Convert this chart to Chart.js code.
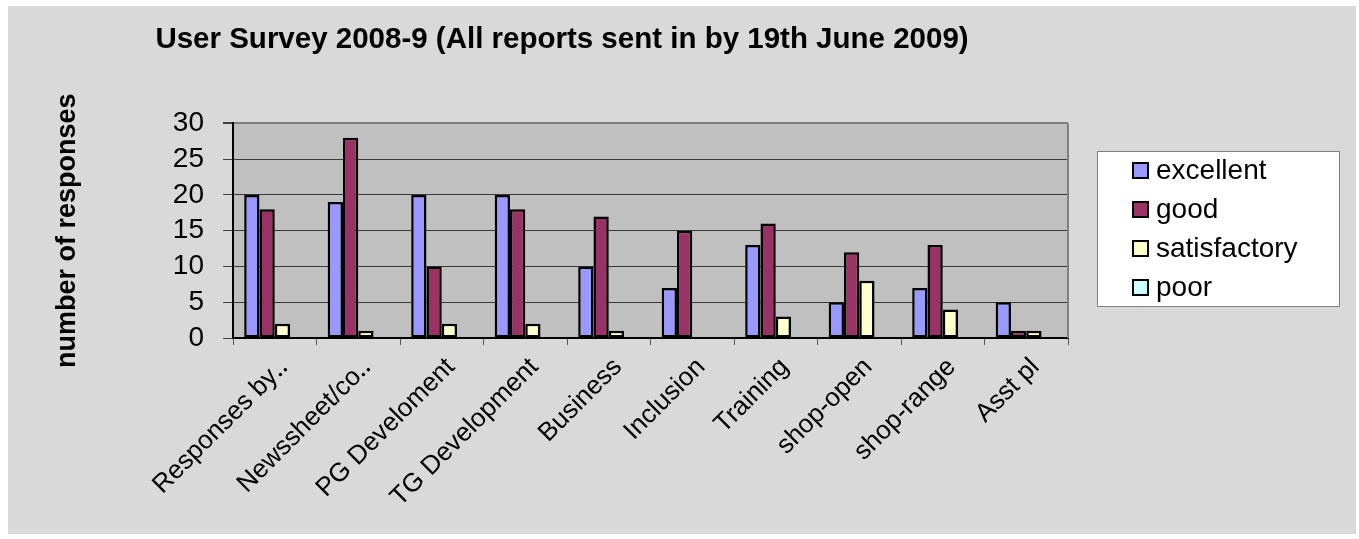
<!DOCTYPE html>
<html><head><meta charset="utf-8">
<script src="https://cdn.jsdelivr.net/npm/chart.js@4"></script>
<style>html,body{margin:0;padding:0;background:#fff;} canvas{display:block;}</style>
</head><body>
<canvas id="c" width="1359" height="539"></canvas>
<script>
const categories = ["Responses by\u2025","Newssheet/co\u2025","PG Develoment","TG Development","Business","Inclusion","Training","shop-open","shop-range","Asst pl"];
const seriesNames = ["excellent","good","satisfactory","poor"];
const excellent = [20,19,20,20,10,7,13,5,7,5];
const good = [18,28,10,18,17,15,16,12,13,1];
const satisfactory = [2,1,2,2,1,0,3,8,4,1];
const poor = [0,0,0,0,0,0,0,0,0,0];
const yTicks = [0,5,10,15,20,25,30];
const colors = ["#9999FF","#993366","#FFFFCC","#CCFFFF"];

const FONT = '"Liberation Sans", Arial, Helvetica, sans-serif';

const bgPlugin = {
  id: 'bg',
  beforeDraw(chart) {
    const ctx = chart.ctx, a = chart.chartArea;
    ctx.save();
    ctx.fillStyle = '#ffffff';
    ctx.fillRect(0, 0, chart.width, chart.height);
    ctx.fillStyle = '#d9d9d9';
    ctx.fillRect(8, 6, 1348, 528);
    ctx.fillStyle = '#c0c0c0';
    ctx.fillRect(a.left, a.top, a.right - a.left, a.bottom - a.top);
    ctx.restore();
  },
  afterDraw(chart) {
    const ctx = chart.ctx, a = chart.chartArea;
    ctx.save();
    ctx.strokeStyle = '#808080';
    ctx.lineWidth = 2;
    ctx.beginPath();
    ctx.moveTo(a.right, a.top);
    ctx.lineTo(a.right, a.bottom);
    ctx.stroke();
    const lx = 1097, ly = 151, lw = 242, lh = 155;
    ctx.fillStyle = '#ffffff';
    ctx.fillRect(lx, ly, lw, lh);
    ctx.strokeStyle = '#808080';
    ctx.lineWidth = 1;
    ctx.strokeRect(lx + 0.5, ly + 0.5, lw, lh);
    ctx.font = '28px ' + FONT;
    ctx.textBaseline = 'middle';
    ctx.textAlign = 'left';
    chart.data.datasets.forEach((ds, i) => {
      const cy = 170 + i * 39;
      ctx.fillStyle = ds.backgroundColor;
      ctx.fillRect(1133, cy - 7, 15, 15);
      ctx.strokeStyle = '#000';
      ctx.lineWidth = 2;
      ctx.strokeRect(1133, cy - 7, 15, 15);
      ctx.fillStyle = '#000';
      ctx.fillText(ds.label, 1156, cy + 1);
    });
    ctx.restore();
  }
};

const datasets = [excellent, good, satisfactory, poor].map((d, i) => ({
  label: seriesNames[i],
  data: d,
  backgroundColor: colors[i],
  borderColor: '#000',
  borderWidth: 2.5,
  borderSkipped: false
}));

new Chart(document.getElementById('c'), {
  type: 'bar',
  data: { labels: categories, datasets },
  plugins: [bgPlugin],
  options: {
    responsive: false,
    animation: false,
    devicePixelRatio: 1,
    layout: { padding: { left: 56, right: 291, top: 0, bottom: 0 } },
    datasets: { bar: { barPercentage: 1, categoryPercentage: 0.732 } },
    plugins: {
      legend: { display: false },
      tooltip: { enabled: false },
      title: {
        display: true,
        text: 'User Survey 2008-9 (All reports sent in by 19th June 2009)',
        color: '#000',
        font: { family: FONT, size: 29.5, weight: 'bold' },
        padding: { top: 22, bottom: 66 }
      }
    },
    scales: {
      x: {
        afterFit(s) { s.height = 201; },
        grid: { display: true, drawOnChartArea: false, drawTicks: true, tickLength: 7, color: '#555', offset: true },
        border: { display: true, color: '#000', width: 2 },
        ticks: {
          autoSkip: false, minRotation: 45, maxRotation: 45,
          color: '#000', font: { family: FONT, size: 26 }, padding: 7, labelOffset: 9
        }
      },
      y: {
        min: 0, max: 30,
        afterFit(s) { s.width = 177; },
        afterBuildTicks(s) { s.ticks = yTicks.map(v => ({ value: v })); },
        grid: {
          color: c => (c.tick && c.tick.value === 30) ? '#808080' : '#3a3a3a',
          lineWidth: c => (c.tick && c.tick.value === 30) ? 2 : 1,
          tickColor: '#404040', tickLength: 10, drawTicks: true
        },
        border: { display: true, color: '#000', width: 2 },
        ticks: { autoSkip: false, color: '#000', font: { family: FONT, size: 28 }, padding: 19 },
        title: {
          display: true, text: 'number of responses', color: '#000',
          font: { family: FONT, size: 27, weight: 'bold', lineHeight: 0.85 },
          padding: 0
        }
      }
    }
  }
});
</script>
</body></html>
